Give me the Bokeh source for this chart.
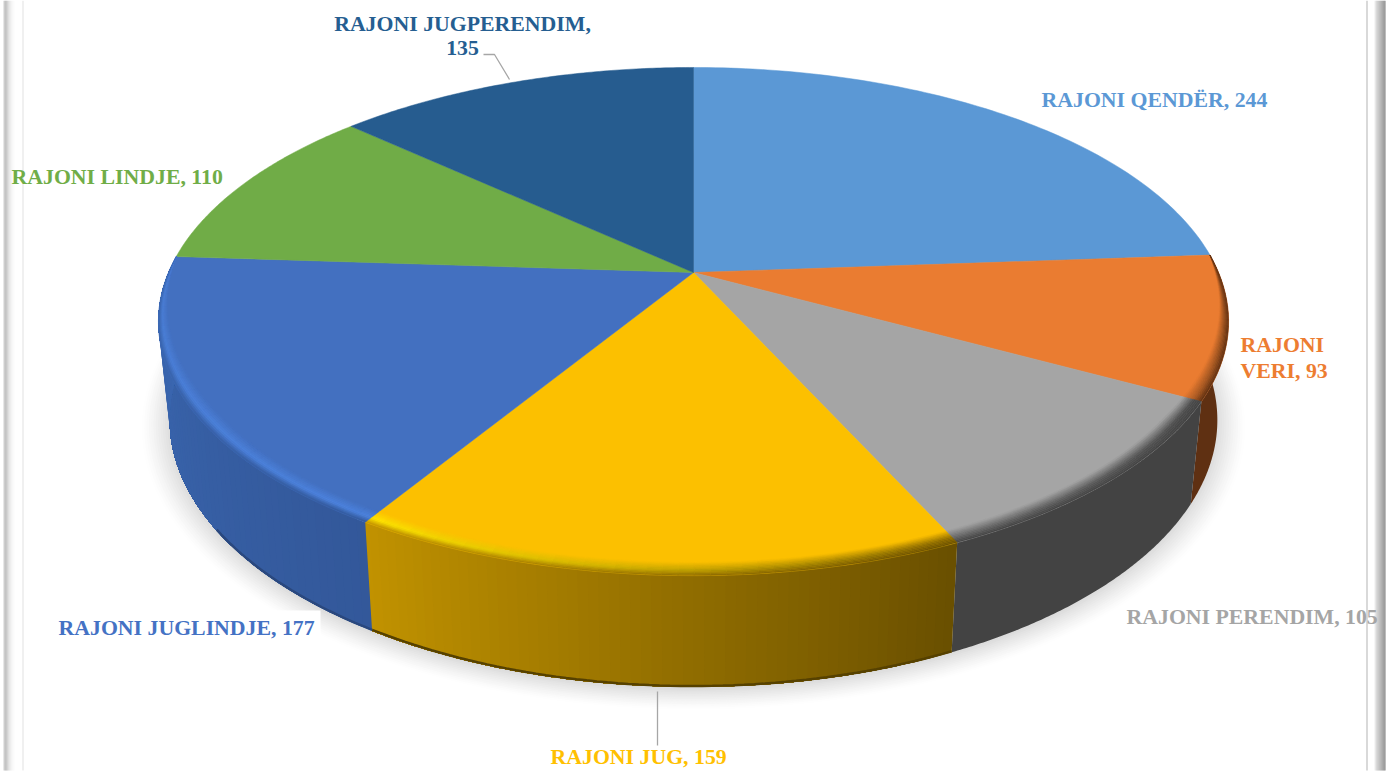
import math
import numpy as np
from bokeh.core.properties import value
from bokeh.embed import file_html
from bokeh.models import Range1d
from bokeh.plotting import figure
from bokeh.resources import INLINE

# ---------- data ----------
regions = ["RAJONI QENDËR", "RAJONI VERI", "RAJONI PERENDIM", "RAJONI JUG",
           "RAJONI JUGLINDJE", "RAJONI LINDJE", "RAJONI JUGPERENDIM"]
counts = [244, 93, 105, 159, 177, 110, 135]

# ---------- styles ----------
TOP = ["#5b98d5", "#ea7c31", "#a5a5a5", "#fcc000", "#4370c0", "#70ac47", "#265c8f"]
WALL = {1: ("#5f3012", "#5f3012"), 2: ("#434343", "#434343"),
        3: ("#694f00", "#c29300"), 4: ("#33589a", "#3b68b2")}
BEVEL = {1: ("#7a4019", "#a85a24"), 2: ("#4a4a4a", "#686868"),
         3: ("#8a6800", "#ffe600"), 4: ("#4d83de", "#4a7dd4")}
FONT = "Liberation Serif"

W, H = 1395, 771
CX, K = 693.0, 0.193
TOP_PLANE = dict(cy=272.0, S=244.6, R=525.0)
BASE_PLANE = dict(cy=368.0, S=257.0, R=514.0)


def project(th, r, plane):
    x, y = r * np.sin(th), r * np.cos(th)
    d = 1 + K * y
    return CX + plane["R"] * x / d, plane["cy"] - plane["S"] * y / d


def h2r(c):
    return np.array([int(c[i:i + 2], 16) for i in (1, 3, 5)], float)


def mix(a, b, t):
    v = h2r(a) * (1 - t) + h2r(b) * t
    return "#%02x%02x%02x" % tuple(int(round(float(q))) for q in v)


def band_width(th):
    return 0.036 * np.clip((0.07 - np.cos(th)) / 0.62, 0, 1) ** 0.8


p = figure(width=W, height=H, x_range=Range1d(0, W), y_range=Range1d(H, 0),
           output_backend="svg", toolbar_location=None, min_border=0)
p.axis.visible = False
p.grid.visible = False
p.outline_line_color = None
p.background_fill_color = "#ffffff"
p.border_fill_color = "#ffffff"

# frame strips of the page behind the chart
left_bar = [(3, "#d0d0d0"), (4, "#b4b4b4"), (5, "#b0b0b0"), (6, "#bcbcbc"), (7, "#cccccc"), (8, "#dadada"),
            (9, "#e4e4e4"), (10, "#ececec"), (11, "#f3f3f3"), (12, "#f8f8f8"), (13, "#fcfcfc"), (22, "#e2e2e2")]
right_bar = [(1366, "#b4b4b4"), (1374, "#ededed"), (1375, "#d8d8d8"), (1376, "#c8c8c8"), (1377, "#bdbdbd"),
             (1378, "#b4b4b4"), (1379, "#aaaaaa"), (1380, "#a0a0a0"), (1381, "#969696"), (1382, "#8a8a8a"),
             (1383, "#808080"), (1384, "#7c7c7c")]
for x0, c in left_bar + right_bar:
    p.quad(left=x0, right=x0 + 1, top=0, bottom=770, fill_color=c, line_color=None)

# soft shadow under the pie
all_th = np.linspace(0, 2 * np.pi, 241)
N_SH = 14
for i in range(N_SH):
    t = i / (N_SH - 1)
    r = 1.055 - 0.055 * t
    xs, ys = project(all_th, r, BASE_PLANE)
    p.patch(xs, ys + 2, fill_color=mix("#ffffff", "#dcdcdc", t ** 1.3), line_color=None)

# white box of the south-east label
p.quad(left=50, right=320, top=610, bottom=644, fill_color="#ffffff", line_color=None)

total = sum(counts)
edges = np.cumsum([0] + counts) / total * 2 * np.pi

# walls, painted from the start of each sweep so that no seams show
for i in WALL:
    a, b = edges[i], edges[i + 1]
    uniform = WALL[i][0] == WALL[i][1]
    n = 1 if uniform else 60
    full = np.linspace(a, b, 120)
    starts = np.linspace(a, b, n + 1)[:-1]
    for j, s in enumerate(starts):
        ts = full[full >= s - 1e-9]
        x0, y0 = project(ts, 1.0, TOP_PLANE)
        x1, y1 = project(ts, 1.0, BASE_PLANE)
        p.patch(list(x0) + list(x1[::-1]), list(y0) + list(y1[::-1]),
                fill_color=mix(WALL[i][0], WALL[i][1], (j + 0.5) / n), line_color=None)

# dark foot of the lit walls, only where the base edge is the silhouette
for i in (3, 4):
    ts = np.linspace(edges[i], edges[i + 1], 60)
    ts = ts[np.cos(ts) < -0.55]
    x1, y1 = project(ts, 1.0, BASE_PLANE)
    p.line(x1, y1 - 1, line_color=mix(WALL[i][0], "#000000", 0.18), line_width=2.5)

# top face
for i, c in enumerate(TOP):
    ts = np.linspace(edges[i], edges[i + 1], 90)
    xs, ys = project(ts, 1.0, TOP_PLANE)
    p.patch([CX] + list(xs), [TOP_PLANE["cy"]] + list(ys), fill_color=c, line_color=c, line_width=0.5)

# bevel round the front of the top face
bx, by, bc = [], [], []
FRACS = np.linspace(1.0, 0.0, 11)
for i in WALL:
    a, b = edges[i], edges[i + 1]
    n = max(6, int((b - a) * 40))
    ts = np.linspace(a, b, n + 1)
    for j in range(n):
        tt = (j + 0.5) / n
        seg = ts[j:j + 2]
        rim = mix(BEVEL[i][0], BEVEL[i][1], tt)
        side = mix(WALL[i][0], WALL[i][1], tt)
        for k in range(len(FRACS) - 1):
            f0, f1 = FRACS[k], FRACS[k + 1]
            fm = (f0 + f1) / 2
            col = mix(TOP[i], rim, (1 - fm) / 0.6) if fm > 0.4 else mix(rim, side, (0.4 - fm) / 0.4)
            w = band_width(seg)
            x0, y0 = project(seg, 1 - w * f0, TOP_PLANE)
            x1, y1 = project(seg, 1 - w * f1, TOP_PLANE)
            bx.append(list(x0) + list(x1[::-1]))
            by.append(list(y0) + list(y1[::-1]))
            bc.append(col)
p.patches(bx, by, fill_color=bc, line_color=bc, line_width=0.4)

# leader lines
p.line([657, 657], [691, 745], line_color="#a6a6a6", line_width=1.3)
p.line([483, 494, 509], [54, 54, 79], line_color="#a6a6a6", line_width=1.3)

# labels
labels = [
    (f"{regions[0]}, {counts[0]}", 1041, 99, "left", TOP[0]),
    ("RAJONI", 1240, 344, "left", "#ed7d31"),
    (f"VERI, {counts[1]}", 1240, 370, "left", "#ed7d31"),
    (f"{regions[2]}, {counts[2]}", 1126, 616, "left", "#a5a5a5"),
    (f"{regions[3]}, {counts[3]}", 550, 756, "left", "#ffc000"),
    (f"{regions[4]}, {counts[4]}", 58, 627, "left", "#4472c4"),
    (f"{regions[5]}, {counts[5]}", 11, 176, "left", "#70ad47"),
    ("RAJONI JUGPERENDIM,", 462, 23, "center", "#255e91"),
    (f"{counts[6]}", 462, 47, "center", "#255e91"),
]
for t, x, y, al, c in labels:
    p.text([x], [y], text=[t], text_color=c, text_font=value(FONT), text_font_style="bold",
           text_font_size="21.8px", text_align=al, text_baseline="middle")

open("out.html", "w").write(file_html(p, INLINE))
